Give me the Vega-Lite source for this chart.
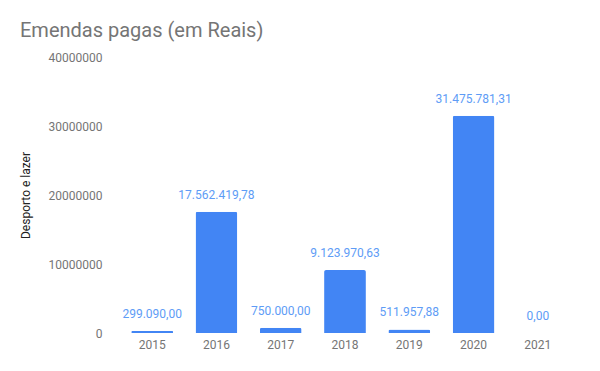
{
  "$schema": "https://vega.github.io/schema/vega-lite/v6.json",
  "width": 450,
  "height": 276,
  "autosize": {"type": "none"},
  "padding": {"left": 120, "top": 57, "right": 30, "bottom": 38},
  "background": "white",
  "title": {
    "text": "Emendas pagas (em Reais)",
    "anchor": "start",
    "frame": "group",
    "dx": -100,
    "offset": 10,
    "font": "Roboto",
    "fontSize": 20,
    "fontWeight": "normal",
    "color": "#757575"
  },
  "data": {
    "values": [
      {"ano": "2015", "valor": 299090.00, "rotulo": "299.090,00"},
      {"ano": "2016", "valor": 17562419.78, "rotulo": "17.562.419,78"},
      {"ano": "2017", "valor": 750000.00, "rotulo": "750.000,00"},
      {"ano": "2018", "valor": 9123970.63, "rotulo": "9.123.970,63"},
      {"ano": "2019", "valor": 511957.88, "rotulo": "511.957,88"},
      {"ano": "2020", "valor": 31475781.31, "rotulo": "31.475.781,31"},
      {"ano": "2021", "valor": 0, "rotulo": "0,00"}
    ]
  },
  "config": {
    "view": {"stroke": null},
    "font": "Roboto"
  },
  "encoding": {
    "x": {
      "field": "ano",
      "type": "ordinal",
      "scale": {"paddingInner": 0.35, "paddingOuter": 0.175},
      "axis": {
        "title": null,
        "labelAngle": 0,
        "domain": false,
        "ticks": false,
        "labelPadding": 6,
        "labelFont": "Roboto",
        "labelFontSize": 12,
        "labelColor": "#757575"
      }
    },
    "y": {
      "field": "valor",
      "type": "quantitative",
      "scale": {"domain": [0, 40000000], "nice": false},
      "axis": {
        "title": "Desporto e lazer",
        "values": [0, 10000000, 20000000, 30000000, 40000000],
        "format": "d",
        "grid": false,
        "domain": false,
        "ticks": false,
        "labelPadding": 18,
        "labelFont": "Roboto",
        "labelFontSize": 12,
        "labelColor": "#757575",
        "titleFont": "Roboto",
        "titleFontSize": 12,
        "titleFontWeight": "normal",
        "titleColor": "#222222",
        "titlePadding": 16
      }
    }
  },
  "layer": [
    {
      "mark": {"type": "bar", "color": "#4285F4", "cornerRadiusTopLeft": 2, "cornerRadiusTopRight": 2}
    },
    {
      "mark": {"type": "text", "baseline": "bottom", "dy": -10, "font": "Roboto", "fontSize": 12, "color": "#5e9cf6"},
      "encoding": {"text": {"field": "rotulo"}}
    }
  ]
}
